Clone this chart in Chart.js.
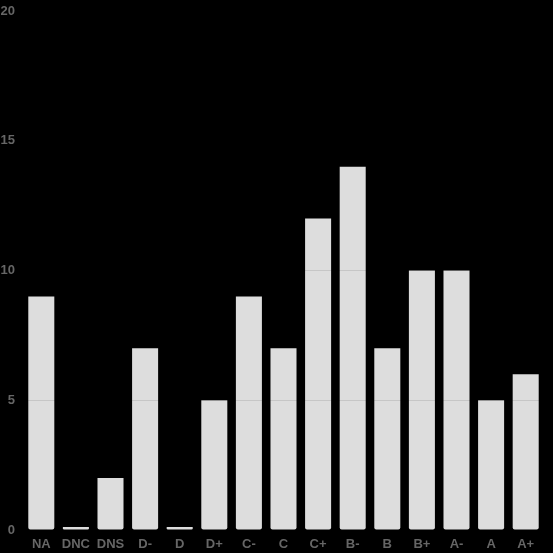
<!DOCTYPE html>
<html>
<head>
<meta charset="utf-8">
<script src="https://cdn.jsdelivr.net/npm/chart.js@4/dist/chart.umd.min.js"></script>
<style>
  html, body { margin: 0; padding: 0; background: #000; }
  #wrap { width: 553px; height: 553px; }
</style>
</head>
<body>
<div id="wrap"><canvas id="gradeChart"></canvas></div>
<script>
// grade distribution
const grades = ["NA", "DNC", "DNS", "D-", "D", "D+", "C-", "C", "C+", "B-", "B", "B+", "A-", "A", "A+"];
const counts = [9, 0, 2, 7, 0, 5, 9, 7, 12, 14, 7, 10, 10, 5, 6];
const yTicks = [0, 5, 10, 15, 20];

const ctx = document.getElementById("gradeChart").getContext("2d");
new Chart(ctx, {
  type: "bar",
  data: {
    labels: grades,
    datasets: [{
      data: counts,
      backgroundColor: "#dddddd",
      borderRadius: { topLeft: 0, topRight: 0, bottomLeft: 2, bottomRight: 2 },
      borderSkipped: false,
      minBarLength: 3,
      barPercentage: 0.94,
      categoryPercentage: 0.8
    }]
  },
  options: {
    responsive: true,
    maintainAspectRatio: false,
    animation: false,
    layout: { padding: { top: 0, right: 10, left: 1, bottom: 0 } },
    plugins: {
      legend: { display: false },
      tooltip: { enabled: false }
    },
    scales: {
      y: {
        min: 0,
        max: 20,
        afterBuildTicks: axis => { axis.ticks = yTicks.map(v => ({ value: v })); },
        afterFit: axis => {
          axis.width = 23;
          axis.paddingTop = 11;
          axis.paddingBottom = 0;
        },
        grid: { color: "rgba(0,0,0,0.1)", z: 1, drawTicks: false },
        border: { display: false },
        ticks: { color: "#666", font: { size: 13, weight: "bold" }, padding: 9 }
      },
      x: {
        afterFit: axis => { axis.height = 23; },
        grid: { display: false, drawTicks: false },
        border: { display: false },
        ticks: {
          color: "#666",
          font: { size: 13, weight: "bold" },
          padding: 7,
          maxRotation: 0,
          minRotation: 0,
          autoSkip: false
        }
      }
    }
  }
});
</script>
</body>
</html>
